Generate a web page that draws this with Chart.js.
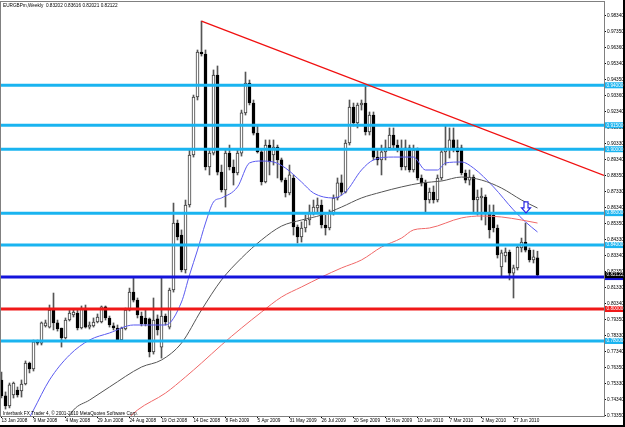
<!DOCTYPE html>
<html>
<head>
<meta charset="utf-8">
<script src="https://cdn.jsdelivr.net/npm/chart.js@4.4.0/dist/chart.umd.min.js"></script>
<style>
html, body { margin: 0; padding: 0; background: #fff; }
canvas { display: block; }
</style>
</head>
<body>
<canvas id="chart" width="625" height="427"></canvas>
<script>
const symbol = 'EURGBPm,Weekly';
const footer = 'Interbank FX Trader 4, \u00a9 2001-2010 MetaQuotes Software Corp.';

// weekly bars, 13 Jan 2008 .. 8 Aug 2010
const opens = [0.7556,0.7456,0.7393,0.7462,0.7493,0.7487,0.7531,0.7662,0.7625,0.7794,
  0.7787,0.7894,0.7887,0.7994,0.7913,0.7881,0.7819,0.7931,0.7963,0.7975,
  0.7881,0.8006,0.7887,0.7894,0.7919,0.7919,0.8013,0.7944,0.7894,0.7881,
  0.7806,0.7875,0.7994,0.8106,0.8056,0.7956,0.7944,0.7938,0.7731,0.7938,
  0.7762,0.7956,0.7887,0.8119,0.8538,0.8463,0.8244,0.8651,0.8964,0.9327,
  0.9608,0.9596,0.8889,0.8976,0.9464,0.8857,0.8745,0.8976,0.8889,0.8851,
  0.8976,0.9227,0.9414,0.9289,0.9101,0.8983,0.8795,0.9026,0.8964,0.9014,
  0.8933,0.8807,0.8726,0.8820,0.8513,0.8451,0.8507,0.8557,0.8601,0.8632,
  0.8651,0.8526,0.8507,0.8601,0.8695,0.8789,0.8732,0.9039,0.9264,0.9164,
  0.9277,0.9289,0.9108,0.9214,0.8951,0.8933,0.8983,0.9008,0.9089,0.9026,
  0.9001,0.8889,0.9008,0.8870,0.8995,0.8820,0.8789,0.8682,0.8732,0.8682,
  0.8820,0.8983,0.8995,0.9058,0.9008,0.9008,0.8851,0.8807,0.8826,0.8682,
  0.8695,0.8701,0.8601,0.8588,0.8507,0.8263,0.8332,0.8357,0.8225,0.8257,
  0.8382,0.8419,0.8369,0.8307,0.83202];
const highs = [0.7606,0.7481,0.7537,0.7543,0.7512,0.7556,0.7675,0.7668,0.7806,0.7806,
  0.7919,0.7931,0.8025,0.8100,0.7931,0.7881,0.7944,0.7994,0.7994,0.7994,
  0.8019,0.8025,0.7919,0.7944,0.7969,0.8019,0.8019,0.7956,0.7913,0.7900,
  0.7887,0.8006,0.8131,0.8194,0.8069,0.7981,0.7994,0.7944,0.8069,0.7963,
  0.8194,0.7969,0.8131,0.8663,0.8557,0.8495,0.8682,0.8995,0.9339,0.9621,
  0.9802,0.9621,0.8995,0.9496,0.9521,0.8901,0.8995,0.9026,0.8933,0.8995,
  0.9245,0.9483,0.9433,0.9308,0.9152,0.8995,0.9058,0.9058,0.9058,0.9026,
  0.8945,0.8820,0.8901,0.8839,0.8526,0.8545,0.8588,0.8651,0.8682,0.8695,
  0.8682,0.8588,0.8620,0.8714,0.8820,0.8839,0.9058,0.9308,0.9289,0.9289,
  0.9308,0.9402,0.9233,0.9233,0.8995,0.9026,0.9058,0.9133,0.9133,0.9058,
  0.9058,0.9058,0.9026,0.9026,0.9008,0.8839,0.8807,0.8757,0.8770,0.8839,
  0.8995,0.9152,0.9133,0.9133,0.9058,0.9026,0.8870,0.8870,0.8839,0.8745,
  0.8757,0.8714,0.8651,0.8651,0.8526,0.8369,0.8382,0.8369,0.8275,0.8401,
  0.8444,0.8538,0.8382,0.8369,0.83616];
const lows = [0.7443,0.7374,0.7381,0.7443,0.7449,0.7449,0.7525,0.7600,0.7612,0.7775,
  0.7775,0.7887,0.7881,0.7869,0.7862,0.7762,0.7812,0.7925,0.7950,0.7869,
  0.7875,0.7881,0.7875,0.7887,0.7913,0.7913,0.7931,0.7887,0.7869,0.7800,
  0.7800,0.7869,0.7988,0.8044,0.7944,0.7894,0.7894,0.7700,0.7718,0.7837,
  0.7693,0.7900,0.7875,0.8106,0.8432,0.8232,0.8225,0.8638,0.8951,0.9308,
  0.9583,0.8870,0.8839,0.8964,0.8839,0.8732,0.8638,0.8870,0.8776,0.8839,
  0.8957,0.9214,0.9277,0.9089,0.8976,0.8776,0.8789,0.8839,0.8901,0.8820,
  0.8795,0.8701,0.8714,0.8463,0.8413,0.8419,0.8482,0.8526,0.8588,0.8607,
  0.8507,0.8463,0.8495,0.8588,0.8682,0.8714,0.8726,0.9026,0.9145,0.9133,
  0.9245,0.9089,0.9089,0.8933,0.8901,0.8839,0.8933,0.8995,0.9008,0.8983,
  0.8870,0.8870,0.8857,0.8857,0.8807,0.8770,0.8607,0.8663,0.8663,0.8670,
  0.8807,0.8901,0.8945,0.8983,0.8901,0.8839,0.8789,0.8776,0.8607,0.8588,
  0.8557,0.8526,0.8444,0.8482,0.8319,0.8200,0.8294,0.8182,0.8069,0.8244,
  0.8357,0.8357,0.8294,0.8288,0.82021];
const closes = [0.7456,0.7393,0.7525,0.7537,0.7462,0.7531,0.7662,0.7625,0.7794,0.7787,
  0.7913,0.7913,0.7994,0.7913,0.7875,0.7819,0.7931,0.7975,0.7981,0.7881,
  0.8006,0.7887,0.7900,0.7919,0.7950,0.8013,0.7944,0.7900,0.7881,0.7806,
  0.7881,0.7994,0.8106,0.8056,0.7963,0.7906,0.7906,0.7731,0.7931,0.7869,
  0.7956,0.7919,0.8119,0.8538,0.8451,0.8244,0.8651,0.8964,0.9327,0.9608,
  0.9596,0.8889,0.8976,0.9464,0.8857,0.8745,0.8976,0.8889,0.8851,0.8976,
  0.9227,0.9414,0.9289,0.9101,0.8983,0.8795,0.9026,0.8920,0.9014,0.8933,
  0.8807,0.8726,0.8839,0.8513,0.8451,0.8507,0.8557,0.8607,0.8638,0.8651,
  0.8526,0.8507,0.8601,0.8695,0.8789,0.8732,0.9039,0.9264,0.9164,0.9277,
  0.9289,0.9108,0.9214,0.8951,0.8933,0.8983,0.9008,0.9089,0.9026,0.9001,
  0.8889,0.9008,0.8870,0.8995,0.8820,0.8789,0.8682,0.8732,0.8682,0.8820,
  0.8983,0.9008,0.9058,0.9008,0.8983,0.8851,0.8807,0.8826,0.8682,0.8701,
  0.8707,0.8601,0.8495,0.8507,0.8338,0.8351,0.8357,0.8225,0.8257,0.8388,
  0.8419,0.8369,0.8307,0.8326,0.82122];

// moving averages (bar index, price)
const maFastBars = [6,8,12,17,22,27,33,37,41,45,47,49,51,53,55,59,62,65,68,71,75,78,83,86,90,93,98,103,106,109,111,115,118,123,128,131,134];
const maFastVals = [0.7274,0.7368,0.7556,0.7712,0.7806,0.7850,0.7900,0.7900,0.7900,0.8044,0.8213,0.8369,0.8538,0.8670,0.8695,0.8764,0.8914,0.8926,0.8920,0.8882,0.8795,0.8726,0.8695,0.8732,0.8870,0.8933,0.8951,0.8951,0.8870,0.8870,0.8914,0.8920,0.8882,0.8764,0.8620,0.8545,0.8482];
const maMidBars = [15,18,22,27,35,40,45,50,55,60,65,70,75,80,85,90,95,100,105,110,115,120,125,130,134];
const maMidVals = [0.7243,0.7368,0.7430,0.7512,0.7637,0.7681,0.7787,0.7994,0.8182,0.8319,0.8432,0.8519,0.8557,0.8588,0.8638,0.8695,0.8732,0.8764,0.8789,0.8801,0.8826,0.8807,0.8757,0.8682,0.8632];
const maSlowBars = [30,34,41,46,50,55,60,65,70,75,80,85,90,95,100,103,107,115,120,125,130,134];
const maSlowVals = [0.7274,0.7368,0.7474,0.7575,0.7662,0.7775,0.7881,0.7981,0.8075,0.8138,0.8200,0.8257,0.8307,0.8388,0.8444,0.8495,0.8507,0.8570,0.8582,0.8576,0.8557,0.8538];

// drawn objects
const levels = [0.94, 0.915, 0.90, 0.86, 0.84, 0.82, 0.80, 0.78];
const levelColors = ['#1ab4f0','#1ab4f0','#1ab4f0','#1ab4f0','#1ab4f0','#1414dc','#f01818','#1ab4f0'];
const trendBars = [50, 150.625];
const trendVals = [0.9802, 0.8836];
const arrowBar = 131;
const arrowPrice = 0.8670;

const dateBars = [0,8,16,24,32,40,48,56,64,72,80,88,96,104,112,120,128];
const dateLabels = ['13 Jan 2008','9 Mar 2008','4 May 2008','29 Jun 2008','24 Aug 2008','19 Oct 2008',
  '14 Dec 2008','8 Feb 2009','5 Apr 2009','31 May 2009','26 Jul 2009','20 Sep 2009','15 Nov 2009',
  '10 Jan 2010','7 Mar 2010','2 May 2010','27 Jun 2010'];
const priceTicks = [0.9834,0.9735,0.9636,0.9534,0.9435,0.9336,0.9234,0.9135,0.9033,0.8934,0.8835,0.8733,
  0.8634,0.8535,0.8433,0.8334,0.8235,0.8133,0.8034,0.7935,0.7833,0.7734,0.7635,0.7533,0.7434,0.7335];

const FONT = '"Liberation Sans", Arial, sans-serif';
const last = closes.length - 1;
const bull = opens.map((o, i) => closes[i] >= o);

const pts = (bars, vals) => bars.map((b, i) => ({ x: b, y: vals[i] }));

const datasets = [
  {
    type: 'bar', order: 10,
    data: opens.map((o, i) => ({ x: i, y: [lows[i], highs[i]] })),
    backgroundColor: '#555', borderWidth: 0, barThickness: 1, grouped: false
  },
  {
    type: 'bar', order: 9,
    data: opens.map((o, i) => ({ x: i, y: [o, closes[i]] })),
    backgroundColor: bull.map(b => b ? '#ffffff' : '#000000'),
    borderColor: bull.map(b => b ? '#3c3c3c' : '#000000'),
    borderWidth: 1, borderSkipped: false, barThickness: 3, grouped: false
  },
  { type: 'line', order: 5, data: pts(maSlowBars, maSlowVals), borderColor: '#f06868', borderWidth: 1, pointRadius: 0, cubicInterpolationMode: 'monotone' },
  { type: 'line', order: 5, data: pts(maMidBars, maMidVals), borderColor: '#555555', borderWidth: 1, pointRadius: 0, cubicInterpolationMode: 'monotone' },
  { type: 'line', order: 5, data: pts(maFastBars, maFastVals), borderColor: '#5a5af0', borderWidth: 1, pointRadius: 0, cubicInterpolationMode: 'monotone' }
];
levels.forEach((v, i) => {
  datasets.push({ type: 'line', order: 3, data: [{ x: -0.125, y: v }, { x: 150.625, y: v }],
    borderColor: levelColors[i], borderWidth: 3, pointRadius: 0 });
});
datasets.push({ type: 'line', order: 2, data: pts(trendBars, trendVals), borderColor: '#f01010', borderWidth: 1.3, pointRadius: 0 });

const overlay = {
  id: 'overlay',
  afterDraw(chart) {
    const { ctx, chartArea: a, scales: { x, y } } = chart;
    ctx.save();
    // frame
    ctx.strokeStyle = '#808080';
    ctx.lineWidth = 1;
    ctx.strokeRect(a.left - 0.5, a.top - 0.5, a.right - a.left + 1, a.bottom - a.top + 1);
    ctx.fillStyle = '#000';
    ctx.fillRect(623, 0, 2, 427);
    ctx.fillRect(0, 425, 625, 2);

    // price boxes on the axis
    ctx.font = '4.7px ' + FONT;
    ctx.textBaseline = 'middle';
    levels.forEach((v, i) => {
      const py = y.getPixelForValue(v);
      ctx.fillStyle = levelColors[i];
      ctx.fillRect(a.right + 1, py - 3, 623 - a.right - 1, 6);
      ctx.fillStyle = '#fff';
      ctx.fillText(v.toFixed(5), a.right + 2.5, py);
    });
    const cy = y.getPixelForValue(closes[last]);
    ctx.fillStyle = '#000';
    ctx.fillRect(a.right + 1, cy - 3, 623 - a.right - 1, 6);
    ctx.fillStyle = '#fff';
    ctx.fillText(closes[last].toFixed(5), a.right + 2.5, cy);

    // arrow mark
    const ax = x.getPixelForValue(arrowBar) + 0.5;
    const ay = y.getPixelForValue(arrowPrice);
    ctx.beginPath();
    ctx.moveTo(ax - 2, ay);
    ctx.lineTo(ax + 2, ay);
    ctx.lineTo(ax + 2, ay + 6);
    ctx.lineTo(ax + 4.5, ay + 6);
    ctx.lineTo(ax, ay + 11);
    ctx.lineTo(ax - 4.5, ay + 6);
    ctx.lineTo(ax - 2, ay + 6);
    ctx.closePath();
    ctx.fillStyle = '#fff';
    ctx.fill();
    ctx.strokeStyle = '#2828e6';
    ctx.lineWidth = 1.2;
    ctx.stroke();

    // header and footer text
    ctx.fillStyle = '#000';
    ctx.textBaseline = 'middle';
    const ohlc = [opens[last], highs[last], lows[last], closes[last]].map(v => v.toFixed(5)).join(' ');
    ctx.fillText(symbol + '  ' + ohlc, 3, 6);
    ctx.fillText(footer, 3, 413.5);
    ctx.restore();
  }
};

new Chart(document.getElementById('chart'), {
  type: 'bar',
  data: { datasets },
  options: {
    responsive: false,
    devicePixelRatio: 1,
    animation: false,
    events: [],
    layout: { padding: { left: 1, top: 2, right: 0, bottom: 0 } },
    plugins: { legend: { display: false }, tooltip: { enabled: false } },
    scales: {
      x: {
        type: 'linear', position: 'bottom', min: -0.125, max: 150.625, offset: false,
        afterBuildTicks: s => { s.ticks = dateBars.map(v => ({ value: v })); },
        afterFit: s => { s.height = 11; s.paddingLeft = 0; s.paddingRight = 0; },
        grid: { drawOnChartArea: false, offset: false, tickLength: 2, color: '#000' },
        border: { display: false },
        ticks: {
          autoSkip: false, maxRotation: 0, minRotation: 0, align: 'start', padding: 0,
          color: '#000', font: { size: 4.7, family: FONT },
          callback: (v, i) => dateLabels[i]
        }
      },
      y: {
        type: 'linear', position: 'right', min: 0.73305, max: 0.99213,
        afterBuildTicks: s => { s.ticks = priceTicks.map(v => ({ value: v })); },
        afterFit: s => { s.width = 21; s.paddingTop = 0; s.paddingBottom = 0; },
        grid: { drawOnChartArea: false, tickLength: 2, color: '#000' },
        border: { display: false },
        ticks: {
          autoSkip: false, padding: 1, color: '#000', font: { size: 4.7, family: FONT },
          callback: v => v.toFixed(5)
        }
      }
    }
  },
  plugins: [overlay]
});
</script>
</body>
</html>
